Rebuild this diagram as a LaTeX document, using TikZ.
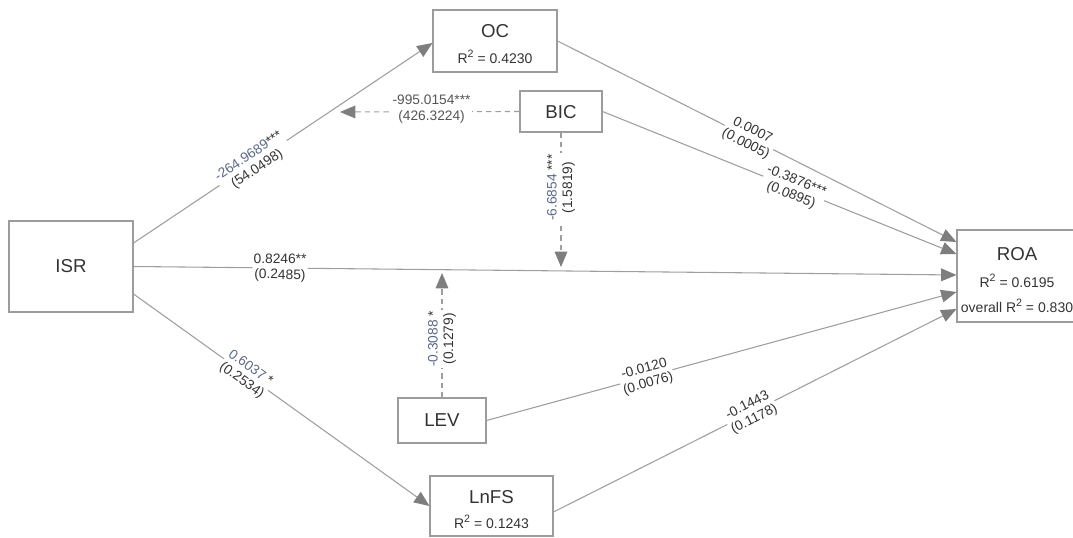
\documentclass[tikz,border=0pt]{standalone}
\usepackage{fontspec}
\setmainfont{Liberation Sans}
\usetikzlibrary{arrows.meta,calc}
\definecolor{linegray}{HTML}{9E9E9E}
\definecolor{tipgray}{HTML}{7E7E7E}
\definecolor{boxgray}{HTML}{9C9C9C}
\definecolor{txt}{HTML}{333333}
\definecolor{bg}{HTML}{5B6A88}
\definecolor{dashtxt}{HTML}{555555}
\newcommand{\sqtwo}{\raisebox{0.42em}{\fontsize{8}{9}\selectfont 2}}
\begin{document}
\begin{tikzpicture}[x=0.75pt,y=-0.75pt,
  box/.style={draw=boxgray,line width=0.8pt,inner sep=0pt},
  title/.style={text=txt,font=\fontsize{14}{16}\selectfont,inner sep=0pt},
  rsq/.style={text=txt,font=\fontsize{10.5}{12}\selectfont,inner sep=0pt},
  conn/.style={draw=linegray,line width=0.8pt,-{Triangle[length=11.5pt,width=9.5pt,color=tipgray]}},
  dconn/.style={conn,dash pattern=on 4pt off 3pt},
  elab/.style={fill=white,text=txt,font=\fontsize{10.3}{11.5}\selectfont,align=center,inner sep=1pt},
]
\useasboundingbox (0,0) rectangle (1073,538);

% boxes
\node[box,minimum width=93pt,minimum height=68.25pt] (ISR) at (71,266.5) {};
\node[box,minimum width=93pt,minimum height=46.5pt] (OC) at (495,41) {};
\node[box,minimum width=61.5pt,minimum height=30.75pt] (BIC) at (561,111.5) {};
\node[box,minimum width=66pt,minimum height=33.75pt] (LEV) at (442,420.5) {};
\node[box,minimum width=92.25pt,minimum height=45pt] (LnFS) at (491.5,506) {};
\node[box,minimum width=93pt,minimum height=69pt] (ROA) at (1019,276) {};

% box texts
\node[title] (tISR) at (71,266) {ISR};
\node[title] (tOC) at (495,31) {OC};
\node[rsq] (rOC) at (495,57) {R\sqtwo\ = 0.4230};
\node[title] (tBIC) at (561,112) {BIC};
\node[title] (tLEV) at (442,420.5) {LEV};
\node[title] (tLnFS) at (491.5,497) {LnFS};
\node[rsq] (rLnFS) at (491.5,522) {R\sqtwo\ = 0.1243};
\node[title] (tROA) at (1017,254) {ROA};
\node[rsq] (rROA) at (1017,281) {R\sqtwo\ = 0.6195};
\node[rsq] (oROA) at (1017,306) {overall R\sqtwo\ = 0.830};

% free ends of moderating arrows
\coordinate (m1) at (340,112);
\coordinate (m2) at (561,267);
\coordinate (m3) at (442,273);

% connectors
\draw[conn] ($(ISR.east)+(0,-23.5)$) -- ($(OC.west)+(0,2)$)
  node[elab,sloped,pos=0.40] (l1) {{\color{bg}-264.9689}***\\(54.0498)};
\draw[conn] (ISR.east) -- ($(ROA.west)+(0,-1)$)
  node[elab,sloped,pos=0.178] (l2) {0.8246**\\(0.2485)};
\draw[conn] ($(ISR.east)+(0,27.5)$) -- (LnFS.west)
  node[elab,sloped,pos=0.38] (l3) {{\color{bg}0.6037} *\\(0.2534)};
\draw[conn] (OC.east) -- ($(ROA.west)+(0,-34)$)
  node[elab,sloped,pos=0.48] (l4) {0.0007\\(0.0005)};
\draw[conn] (BIC.east) -- ($(ROA.west)+(0,-22)$)
  node[elab,sloped,pos=0.54] (l5) {-0.3876***\\(0.0895)};
\draw[conn] (LEV.east) -- ($(ROA.west)+(0,16)$)
  node[elab,sloped,pos=0.34] (l6) {-0.0120\\(0.0076)};
\draw[conn] ($(LnFS.east)+(0,6)$) -- ($(ROA.west)+(0,33)$)
  node[elab,sloped,pos=0.49] (l7) {-0.1443\\(0.1178)};
\draw[dconn] (BIC.west) -- (m1)
  node[elab,text=dashtxt,pos=0.49,yshift=2pt] (l8) {-995.0154***\\(426.3224)};
\draw[dconn] (BIC.south) -- (m2)
  node[elab,rotate=90,pos=0.41] (l9) {{\color{bg}-6.6854} ***\\(1.5819)};
\draw[dconn] (LEV.north) -- (m3)
  node[elab,rotate=90,pos=0.47] (l10) {{\color{bg}-0.3088} *\\(0.1279)};
\end{tikzpicture}
\end{document}
